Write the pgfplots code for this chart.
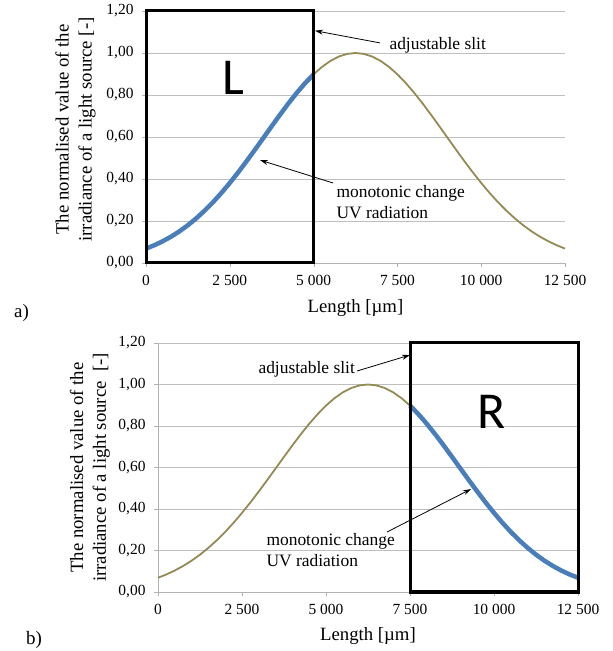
\documentclass[border=0pt]{standalone}
\usepackage{fontspec}
\setmainfont{Liberation Serif}
\newfontfamily\calibri{Carlito}
\usepackage{pgfplots}
\pgfplotsset{compat=1.18}
\usepackage{pgfplotstable}
\usetikzlibrary{arrows.meta}
\definecolor{uvblue}{RGB}{74,126,187}
\definecolor{olivecurve}{RGB}{148,138,84}

% normalised irradiance along the slit
\pgfplotstableread{
x y
0 0.0686
250 0.0847
500 0.1036
750 0.1256
1000 0.1510
1250 0.1800
1500 0.2128
1750 0.2494
2000 0.2897
2250 0.3337
2500 0.3812
2750 0.4316
3000 0.4846
3250 0.5394
3500 0.5953
3750 0.6513
4000 0.7067
4250 0.7601
4500 0.8106
4750 0.8570
5000 0.8984
5250 0.9337
5500 0.9621
5750 0.9830
6000 0.9957
6250 1.0000
6500 0.9957
6750 0.9830
7000 0.9621
7250 0.9337
7500 0.8984
7750 0.8570
8000 0.8106
8250 0.7601
8500 0.7067
8750 0.6513
9000 0.5953
9250 0.5394
9500 0.4846
9750 0.4316
10000 0.3812
10250 0.3337
10500 0.2897
10750 0.2494
11000 0.2128
11250 0.1800
11500 0.1510
11750 0.1256
12000 0.1036
12250 0.0847
12500 0.0686
}\irr

\pgfplotsset{slit/.style={
  scale only axis, clip=false,
  xmin=0, xmax=12500, ymin=0, ymax=1.2,
  scaled x ticks=false,
  axis x line*=bottom, axis y line*=left,
  axis line style={draw=gray!60},
  xtick={0,2500,5000,7500,10000,12500},
  xticklabels={0,2~500,5~000,7~500,10~000,12~500},
  ytick={0,0.2,0.4,0.6,0.8,1.0,1.2},
  yticklabels={0{,}00,0{,}20,0{,}40,0{,}60,0{,}80,1{,}00,1{,}20},
  ymajorgrids, grid style={gray!50, line width=0.8bp},
  tick align=outside, major tick length=4bp, tick style={gray!60},
  ticklabel style={font=\fontsize{15.5}{18}\selectfont},
  xticklabel style={yshift=-5bp},
  yticklabel style={xshift=-5bp},
  label style={font=\fontsize{18.8}{23}\selectfont, align=center},
  xlabel={Length [µm]},
}}

\begin{document}
\begin{tikzpicture}[>={Stealth[length=8bp,width=5bp]}]
\useasboundingbox (0,0) rectangle (613bp,651bp);

% a) left slit
\begin{axis}[slit,
  at={(146bp,388bp)}, anchor=south west,
  width=419bp, height=252bp,
  ylabel={The normalised value of the\\irradiance of a light source [-]},
  ylabel style={at={(axis description cs:-0.168,0.53)}, anchor=center},
  xlabel style={at={(axis description cs:0.5,-0.18)}, anchor=center},
]
\addplot[olivecurve, line width=1.8bp, restrict x to domain=5000:12500] table {\irr};
\addplot[uvblue, line width=4.5bp, restrict x to domain=0:5000] table {\irr};
\draw[line width=3bp] (axis cs:0,0) rectangle (axis cs:5000,1.2);
\node[font=\calibri\fontsize{52}{52}\selectfont] at (axis cs:2595,0.88) {L};
\node[anchor=west, font=\fontsize{17.5}{21}\selectfont] at (axis cs:7160,1.038) {adjustable slit};
\draw[->, line width=0.8bp] (axis cs:6981,1.048) -- (axis cs:5042,1.106);
\node[anchor=west, align=left, font=\fontsize{17.5}{21}\selectfont] at (axis cs:5579,0.29) {monotonic change\\UV radiation};
\draw[->, line width=0.8bp] (axis cs:5579,0.381) -- (axis cs:3401,0.490);
\end{axis}

% b) right slit
\begin{axis}[slit,
  at={(158bp,59bp)}, anchor=south west,
  width=420bp, height=249bp,
  ylabel={The normalised value of the\\irradiance of a light source\ \ [-]},
  ylabel style={at={(axis description cs:-0.162,0.5)}, anchor=center},
  xlabel style={at={(axis description cs:0.5,-0.175)}, anchor=center},
]
\addplot[olivecurve, line width=1.8bp, restrict x to domain=0:7500] table {\irr};
\addplot[uvblue, line width=4.5bp, restrict x to domain=7500:12500] table {\irr};
\draw[line width=3bp] (axis cs:7500,0) rectangle (axis cs:12500,1.2);
\node[font=\calibri\fontsize{52}{52}\selectfont] at (axis cs:9940,0.867) {R};
\node[anchor=west, font=\fontsize{17.5}{21}\selectfont] at (axis cs:2887,1.075) {adjustable slit};
\draw[->, line width=0.8bp] (axis cs:5923,1.065) -- (axis cs:7500,1.142);
\node[anchor=west, align=left, font=\fontsize{17.5}{21}\selectfont] at (axis cs:3125,0.2) {monotonic change\\UV radiation};
\draw[->, line width=0.8bp] (axis cs:6815,0.289) -- (axis cs:9315,0.496);
\end{axis}

\node[font=\fontsize{19}{21}\selectfont] at (21.5bp,338bp) {a)};
\node[font=\fontsize{19}{21}\selectfont] at (34bp,11bp) {b)};
\end{tikzpicture}
\end{document}
